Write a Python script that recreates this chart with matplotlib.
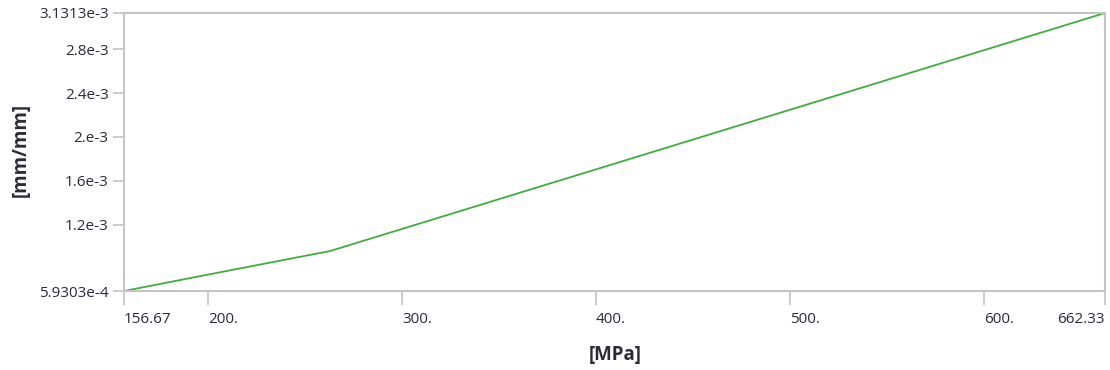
import matplotlib.pyplot as plt

# stress [MPa] vs strain [mm/mm]
stress = [156.67, 200.0, 262.9, 350.0, 450.0, 550.0, 662.33]
strain = [5.9303e-4, 7.43e-4, 9.58e-4, 1.432e-3, 1.976e-3, 2.52e-3, 3.1313e-3]

xticks = [156.67, 200, 300, 400, 500, 600, 662.33]
xlabels = ["156.67", "200.", "300.", "400.", "500.", "600.", "662.33"]
yticks = [5.9303e-4, 1.2e-3, 1.6e-3, 2e-3, 2.4e-3, 2.8e-3, 3.1313e-3]
ylabels = ["5.9303e-4", "1.2e-3", "1.6e-3", "2.e-3", "2.4e-3", "2.8e-3", "3.1313e-3"]

plt.rcParams['font.family'] = ['Open Sans', 'DejaVu Sans']
txt = '#2a2a38'
grey = '#c4c4c4'

fig = plt.figure(figsize=(11.1, 3.7), dpi=100)
ax = fig.add_axes([0.1117, 0.2135, 0.8838, 0.7514])

ax.plot(stress, strain, color='#3fae3f', linewidth=1.3)

ax.set_xlim(xticks[0], xticks[-1])
ax.set_ylim(yticks[0], yticks[-1])
ax.set_xticks(xticks)
ax.set_xticklabels(xlabels)
ax.set_yticks(yticks)
ax.set_yticklabels(ylabels)

for i, lab in enumerate(ax.get_xticklabels()):
    lab.set_ha('right' if i == len(xlabels) - 1 else 'left')

ax.tick_params(axis='x', length=10, width=1.2, color=grey, pad=5, labelsize=11, labelcolor=txt)
ax.tick_params(axis='y', length=8, width=1.2, color=grey, pad=3, labelsize=11, labelcolor=txt)
for s in ax.spines.values():
    s.set_color(grey)
    s.set_linewidth(1.5)

ax.set_xlabel("[MPa]", fontsize=13.5, fontweight='bold', color=txt)
ax.set_ylabel("[mm/mm]", fontsize=13.5, fontweight='bold', color=txt)
ax.xaxis.set_label_coords(0.5005, -0.194)
ax.yaxis.set_label_coords(-0.0948, 0.507)

fig.savefig("out.png", dpi=100)
